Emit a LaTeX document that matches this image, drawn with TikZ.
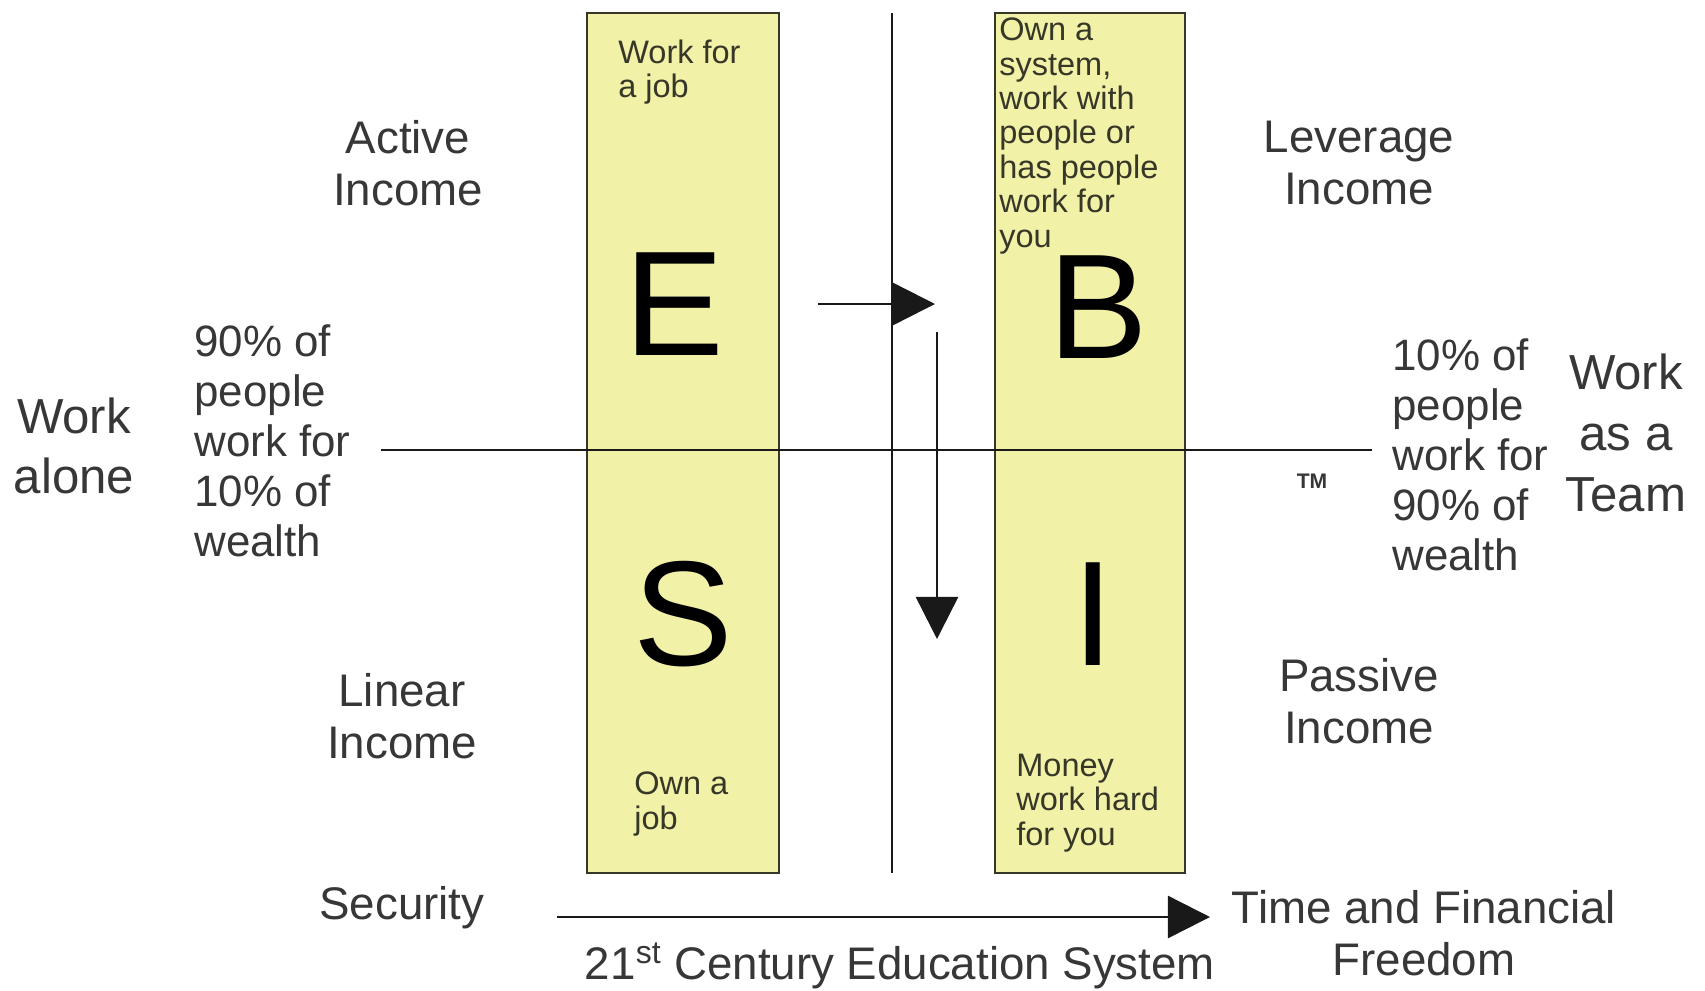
\documentclass[tikz,border=0pt]{standalone}
\usepackage{fontspec}
\setmainfont{Liberation Sans}
\usetikzlibrary{arrows.meta,positioning}

\definecolor{boxyellow}{RGB}{241,241,168}
\definecolor{boxedge}{RGB}{55,55,40}
\definecolor{labelgray}{RGB}{55,55,55}

\begin{document}
\begin{tikzpicture}[x=0.02cm,y=-0.02cm,
    >={Triangle[length=24pt,width=24pt]},
    quad/.style={draw=boxedge,line width=1.6pt,fill=boxyellow,inner sep=0pt,
      minimum height=17.2cm},
    letter/.style={font=\fontsize{85}{85}\selectfont,inner sep=0pt},
    note/.style={font=\fontsize{18.5}{19.6}\selectfont,align=left,text=boxedge,inner sep=0pt},
    side/.style={font=\fontsize{26}{29.5}\selectfont,align=center,text=labelgray,inner sep=0pt},
    share/.style={font=\fontsize{25}{28.4}\selectfont,align=left,text=labelgray,inner sep=0pt},
    team/.style={font=\fontsize{28}{34.6}\selectfont,align=center,text=labelgray,inner sep=0pt},
    axis/.style={black!90,line width=1.4pt}]
    \useasboundingbox (0,0) rectangle (1705,991);

    \node[quad,minimum width=3.84cm] (boxL) at (683,443) {};
    \node[quad,minimum width=3.80cm] (boxR) at (1090,443) {};

    \coordinate (v0) at (892,13);
    \coordinate (v1) at (892,873);
    \coordinate (h0) at (381,450);
    \coordinate (h1) at (1372,450);
    \draw[axis] (v0) -- (v1);
    \draw[axis] (h0) -- (h1);

    \node[letter] (e) at (674,304) {E};
    \node[letter] (b) at (1098,307) {B};
    \node[letter] (s) at (683,614) {S};
    \node[letter] (i) at (1093,614) {I};

    \node[note,anchor=west] (n1) at (618,72) {Work for\\a job};
    \node[note,anchor=west] (n2) at (999,136) {Own a\\system,\\work with\\people or\\has people\\work for\\you};
    \node[note,anchor=west] (n3) at (634,804) {Own a\\job};
    \node[note,anchor=west] (n4) at (1016,803) {Money\\work hard\\for you};

    \node[side] (active) at (408,163) {Active\\Income};
    \node[side] (leverage) at (1359,163) {Leverage\\Income};
    \node[side] (linear) at (402,716) {Linear\\Income};
    \node[side] (passive) at (1359,701) {Passive\\Income};

    \node[team] (alone) at (74,446) {Work\\alone};
    \node[team] (teamwork) at (1626,433) {Work\\as a\\Team};
    \node[share,anchor=west] (few) at (194,441) {90\% of\\people\\work for\\10\% of\\wealth};
    \node[share,anchor=west] (many) at (1392,455) {10\% of\\people\\work for\\90\% of\\wealth};
    \node[font=\fontsize{12}{12}\selectfont\bfseries,text=labelgray] (tm) at (1312,481) {TM};

    \node[side] (security) at (402,908) {Security};
    \node[side] (freedom) at (1424,933) {Time and Financial\\Freedom};
    \node[side] (school) at (900,966) {21\textsuperscript{st} Century Education System};

    % arrows
    \coordinate (r0) at (818,304);
    \coordinate (r1) at (935,304);
    \coordinate (d0) at (937,332);
    \coordinate (d1) at (937,639);
    \coordinate (a0) at (557,917);
    \coordinate (a1) at (1210,917);
    \draw[->,axis] (r0) -- (r1);
    \draw[->,axis] (d0) -- (d1);
    \draw[->,axis] (a0) -- (a1);
\end{tikzpicture}
\end{document}
